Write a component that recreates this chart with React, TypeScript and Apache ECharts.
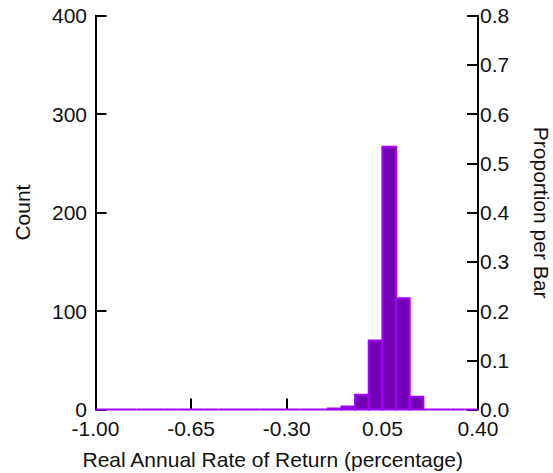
import React, { useEffect, useRef } from "react";
import * as echarts from "echarts";

// Histogram bins (lower edges), bin width 0.05
const binStarts = [
  -1.0, -0.95, -0.9, -0.85, -0.8, -0.75, -0.7, -0.65, -0.6, -0.55,
  -0.5, -0.45, -0.4, -0.35, -0.3, -0.25, -0.2, -0.15, -0.1, -0.05,
  0.0, 0.05, 0.1, 0.15, 0.2, 0.25, 0.3, 0.35,
];
const binWidth = 0.05;
const counts = [
  0, 0, 0, 0, 0, 0, 0, 0, 0, 0,
  0, 0, 0, 0, 0, 0, 0, 1, 3, 15,
  70, 267, 113, 13, 0, 0, 0, 0,
];
const xTickValues = [-1.0, -0.65, -0.3, 0.05, 0.4];
const countMax = 400;
const proportionMax = 0.8;

const FONT = "'Liberation Sans', Arial, sans-serif";
const FILL = "#7400b6";
const STROKE = "#a600ff";
const TEXT = "#111";

export default function App() {
  const ref = useRef<HTMLDivElement>(null);
  useEffect(() => {
    if (!ref.current) return;
    const chart = echarts.init(ref.current, null, { renderer: "svg" });
    const data = binStarts.map((s, i) => [s, s + binWidth, counts[i]]);
    const tickStyle = { show: true, inside: true, length: 11, lineStyle: { color: "#000", width: 2 } };
    const lineStyle = { show: true, onZero: false, lineStyle: { color: "#000", width: 2 } };
    chart.setOption({
      animation: false,
      grid: {
        left: 95.5,
        right: 75,
        top: 15.7,
        bottom: 63.5,
        containLabel: false,
        outerBoundsMode: "none",
      },
      xAxis: {
        type: "value",
        min: -1.0,
        max: 0.4,
        axisLine: { show: false },
        splitLine: { show: false },
        axisTick: { ...tickStyle, customValues: xTickValues },
        axisLabel: {
          customValues: xTickValues,
          formatter: (v: number) => v.toFixed(2),
          fontFamily: FONT,
          fontSize: 21,
          color: TEXT,
          margin: 8,
        },
        name: "Real Annual Rate of Return (percentage)",
        nameLocation: "middle",
        nameGap: 39,
        nameTextStyle: { fontFamily: FONT, fontSize: 21, color: TEXT, padding: [0, 28, 0, 0] },
      },
      yAxis: [
        {
          type: "value",
          position: "left",
          min: 0,
          max: countMax,
          interval: 100,
          axisLine: lineStyle,
          axisTick: tickStyle,
          splitLine: { show: false },
          axisLabel: { fontFamily: FONT, fontSize: 21, color: TEXT, margin: 8.5 },
          name: "Count",
          nameLocation: "middle",
          nameGap: 63,
          nameTextStyle: { fontFamily: FONT, fontSize: 21, color: TEXT },
        },
        {
          type: "value",
          position: "right",
          min: 0,
          max: proportionMax,
          interval: 0.1,
          axisLine: lineStyle,
          axisTick: tickStyle,
          splitLine: { show: false },
          axisLabel: {
            fontFamily: FONT,
            fontSize: 21,
            color: TEXT,
            margin: 2,
            formatter: (v: number) => v.toFixed(1),
          },
          name: "Proportion per Bar",
          nameLocation: "middle",
          nameRotate: -90,
          nameGap: 53,
          nameTextStyle: { fontFamily: FONT, fontSize: 21, color: TEXT },
        },
      ],
      series: [
        {
          type: "custom",
          xAxisIndex: 0,
          yAxisIndex: 0,
          clip: false,
          z: 1,
          encode: { x: [0, 1], y: 2 },
          data,
          renderItem: (params: any, api: any) => {
            const lo = api.value(0);
            const hi = api.value(1);
            const c = api.value(2);
            const pTop = api.coord([lo, c]);
            const pBot = api.coord([hi, 0]);
            if (c === 0) {
              return {
                type: "line",
                shape: { x1: pTop[0], y1: pBot[1], x2: pBot[0], y2: pBot[1] },
                style: { stroke: STROKE, lineWidth: 2 },
              };
            }
            return {
              type: "rect",
              shape: {
                x: pTop[0],
                y: pTop[1],
                width: pBot[0] - pTop[0],
                height: pBot[1] - pTop[1],
              },
              style: { fill: FILL, stroke: STROKE, lineWidth: 2 },
            };
          },
        },
      ],
    });
    return () => chart.dispose();
  }, []);
  return (
    <div
      ref={ref}
      style={{ position: "fixed", left: 0, top: 0, width: 553, height: 473, background: "#fff" }}
    />
  );
}
